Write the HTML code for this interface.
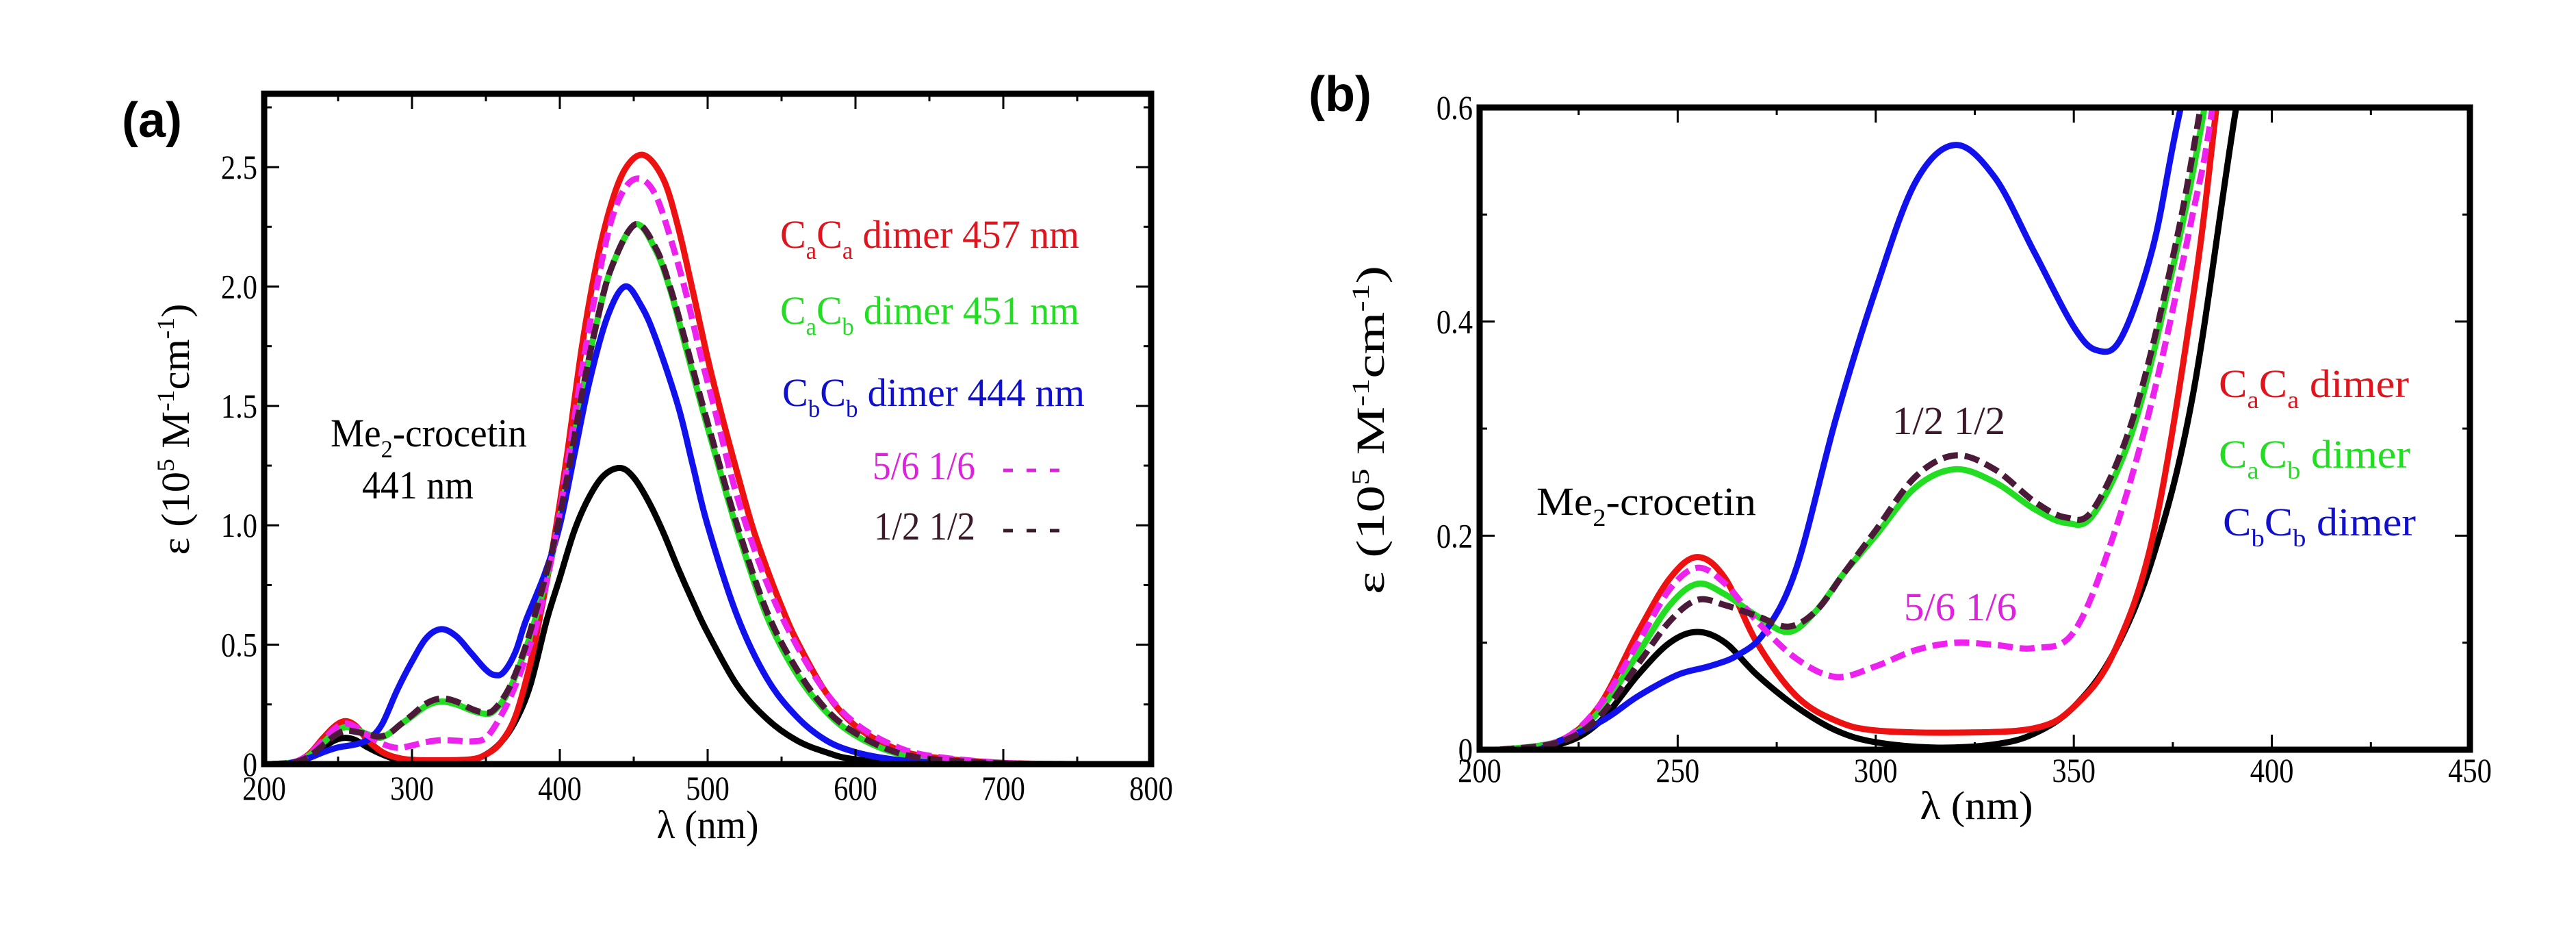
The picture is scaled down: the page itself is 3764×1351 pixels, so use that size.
<!DOCTYPE html>
<html><head><meta charset="utf-8"><style>
html,body{margin:0;padding:0;background:#fff;}
svg, svg text{font-family:"Liberation Serif","DejaVu Serif",serif;}
svg text.lbl{font-family:"Liberation Sans","DejaVu Sans",sans-serif;font-weight:bold;}
</style></head><body>
<svg id="fig" width="3764" height="1346" viewBox="0 0 3764 1346" xmlns="http://www.w3.org/2000/svg" font-family="Liberation Serif, serif">
<defs>
<clipPath id="clipA"><rect x="386" y="137" width="1296" height="979"/></clipPath>
<clipPath id="clipB"><rect x="2162" y="157" width="1447" height="938"/></clipPath>
</defs>
<text class="lbl" x="178" y="200" font-size="72" font-family="Liberation Sans, sans-serif" font-weight="bold">(a)</text>
<text class="lbl" x="1912" y="162" font-size="72" font-family="Liberation Sans, sans-serif" font-weight="bold">(b)</text>
<g id="panelA" font-family="Liberation Serif, serif"></g>
<g id="panelB" font-family="Liberation Serif, serif"></g>

<g font-size="58" font-family="Liberation Serif, serif">
<text x="1140" y="362" fill="#e0141c" textLength="437" lengthAdjust="spacingAndGlyphs">C<tspan font-size="36" dy="16">a</tspan><tspan dy="-16">C</tspan><tspan font-size="36" dy="16">a</tspan><tspan dy="-16"> dimer  457 nm</tspan></text>
<text x="1140" y="473" fill="#22dd22" textLength="437" lengthAdjust="spacingAndGlyphs">C<tspan font-size="36" dy="16">a</tspan><tspan dy="-16">C</tspan><tspan font-size="36" dy="16">b</tspan><tspan dy="-16"> dimer  451 nm</tspan></text>
<text x="1143" y="593" fill="#1010cc" textLength="442" lengthAdjust="spacingAndGlyphs">C<tspan font-size="36" dy="16">b</tspan><tspan dy="-16">C</tspan><tspan font-size="36" dy="16">b</tspan><tspan dy="-16"> dimer  444 nm</tspan></text>
<text x="1275" y="700" fill="#dd22dd" textLength="150" lengthAdjust="spacingAndGlyphs">5/6 1/6</text>
<line x1="1466" y1="687" x2="1548" y2="687" stroke="#dd22dd" stroke-width="5" stroke-dasharray="14 20"/>
<text x="1277" y="788" fill="#3a1a2a" textLength="148" lengthAdjust="spacingAndGlyphs">1/2 1/2</text>
<line x1="1466" y1="775" x2="1548" y2="775" stroke="#3a1a2a" stroke-width="5" stroke-dasharray="14 20"/>
<text x="483" y="652" fill="#000" textLength="287" lengthAdjust="spacingAndGlyphs">Me<tspan font-size="36" dy="16">2</tspan><tspan dy="-16">-crocetin</tspan></text>
<text x="529" y="728" fill="#000" textLength="163" lengthAdjust="spacingAndGlyphs">441 nm</text>
</g>
<text transform="translate(276,627) rotate(-90)" text-anchor="middle" font-size="58" font-family="Liberation Serif, serif" textLength="367" lengthAdjust="spacingAndGlyphs">ε (10<tspan font-size="36" dy="-22">5</tspan><tspan dy="22"> M</tspan><tspan font-size="36" dy="-22">-1</tspan><tspan dy="22">cm</tspan><tspan font-size="36" dy="-22">-1</tspan><tspan dy="22">)</tspan></text>
<text x="1034" y="1224" text-anchor="middle" font-size="58" font-family="Liberation Serif, serif" textLength="149" lengthAdjust="spacingAndGlyphs">λ (nm)</text>

<g font-size="58" font-family="Liberation Serif, serif">
<text x="3242" y="580" fill="#e0141c" textLength="278" lengthAdjust="spacingAndGlyphs">C<tspan font-size="36" dy="16">a</tspan><tspan dy="-16">C</tspan><tspan font-size="36" dy="16">a</tspan><tspan dy="-16"> dimer</tspan></text>
<text x="3242" y="683" fill="#22dd22" textLength="280" lengthAdjust="spacingAndGlyphs">C<tspan font-size="36" dy="16">a</tspan><tspan dy="-16">C</tspan><tspan font-size="36" dy="16">b</tspan><tspan dy="-16"> dimer</tspan></text>
<text x="3248" y="782" fill="#1010cc" textLength="282" lengthAdjust="spacingAndGlyphs">C<tspan font-size="36" dy="16">b</tspan><tspan dy="-16">C</tspan><tspan font-size="36" dy="16">b</tspan><tspan dy="-16"> dimer</tspan></text>
<text x="2765" y="634" fill="#3a1a2a" textLength="165" lengthAdjust="spacingAndGlyphs">1/2 1/2</text>
<text x="2782" y="906" fill="#dd22dd" textLength="165" lengthAdjust="spacingAndGlyphs">5/6 1/6</text>
<text x="2245" y="752" fill="#000" textLength="321" lengthAdjust="spacingAndGlyphs">Me<tspan font-size="36" dy="16">2</tspan><tspan dy="-16">-crocetin</tspan></text>
</g>
<text transform="translate(2022,628) rotate(-90)" text-anchor="middle" font-size="58" font-family="Liberation Serif, serif" textLength="480" lengthAdjust="spacingAndGlyphs">ε (10<tspan font-size="36" dy="-22">5</tspan><tspan dy="22"> M</tspan><tspan font-size="36" dy="-22">-1</tspan><tspan dy="22">cm</tspan><tspan font-size="36" dy="-22">-1</tspan><tspan dy="22">)</tspan></text>
<text x="2888" y="1196" text-anchor="middle" font-size="58" font-family="Liberation Serif, serif" textLength="165" lengthAdjust="spacingAndGlyphs">λ (nm)</text>
</svg>
<script>
const blackWl = [205,220,230,240,248,255,262,270,280,290,300,315,330,340,350,360,370,380,391,400,410,420,430,441,450,460,470,480,490,500,520,540,560,580,600,650,750];
const blackEps = [0,0.005,0.025,0.07,0.1,0.11,0.1,0.07,0.04,0.018,0.007,0.002,0.005,0.015,0.04,0.09,0.18,0.33,0.6,0.78,0.98,1.12,1.21,1.24,1.2,1.1,0.97,0.82,0.68,0.55,0.33,0.19,0.1,0.05,0.02,0.002,0];
const redWl = [205,220,230,240,248,255,262,270,280,290,300,320,340,350,360,370,380,386,395,405,415,425,435,445,457,470,480,490,500,510,520,530,540,550,560,580,600,625,650,700,750];
const redEps = [0,0.008,0.04,0.11,0.16,0.18,0.16,0.1,0.05,0.027,0.018,0.016,0.02,0.04,0.09,0.2,0.42,0.6,0.9,1.3,1.75,2.1,2.35,2.5,2.55,2.45,2.25,1.98,1.7,1.45,1.22,1.0,0.82,0.66,0.52,0.3,0.16,0.07,0.03,0.005,0];
const greenWl = [205,220,230,240,248,255,262,270,278,285,292,300,310,320,330,340,348,355,365,375,383,395,405,415,425,435,451,465,475,485,495,505,520,540,560,580,600,625,650,700,750];
const greenEps = [0,0.008,0.035,0.09,0.135,0.155,0.145,0.125,0.11,0.13,0.165,0.2,0.245,0.262,0.25,0.225,0.212,0.22,0.3,0.45,0.6,0.88,1.2,1.55,1.85,2.08,2.26,2.15,1.98,1.75,1.52,1.3,0.98,0.62,0.38,0.22,0.12,0.05,0.02,0.003,0];
const blueWl = [215,230,240,250,258,265,272,280,290,300,310,320,330,340,350,356,362,370,377,390,400,410,420,432,444,455,465,480,490,500,520,540,560,580,600,625,650,700];
const blueEps = [0,0.025,0.05,0.07,0.078,0.088,0.11,0.17,0.31,0.43,0.53,0.565,0.535,0.465,0.395,0.373,0.385,0.47,0.6,0.8,1.0,1.3,1.6,1.87,2.0,1.92,1.78,1.5,1.25,1.0,0.62,0.36,0.2,0.1,0.05,0.02,0.008,0];
const halfWl = [205,220,230,240,248,255,262,270,278,285,292,300,310,320,330,340,348,355,365,375,382,395,405,415,425,435,451,465,475,485,495,505,520,540,560,580,600,625,650,700,750];
const halfEps = [0,0.007,0.03,0.08,0.12,0.14,0.135,0.125,0.115,0.13,0.165,0.205,0.255,0.275,0.262,0.232,0.217,0.225,0.31,0.46,0.6,0.9,1.2,1.55,1.85,2.08,2.26,2.16,1.99,1.77,1.54,1.32,1.0,0.64,0.4,0.23,0.13,0.055,0.022,0.003,0];
const sixthWl = [205,220,230,240,248,255,262,270,280,290,300,310,320,330,340,350,360,370,380,385,395,405,415,425,435,445,455,465,475,485,495,505,520,540,560,580,600,625,650,700,750];
const sixthEps = [0,0.008,0.04,0.1,0.15,0.17,0.155,0.12,0.085,0.068,0.078,0.093,0.1,0.098,0.095,0.11,0.2,0.33,0.5,0.6,0.88,1.25,1.65,2.0,2.28,2.42,2.45,2.38,2.2,1.98,1.72,1.48,1.12,0.76,0.5,0.3,0.17,0.08,0.035,0.005,0];
const xTicksA = [200,300,400,500,600,700,800];
const yTicksA = [0,0.5,1.0,1.5,2.0,2.5];
const yLabelsA = ["0","0.5","1.0","1.5","2.0","2.5"];
const xTicksB = [200,250,300,350,400,450];
const yTicksB = [0,0.2,0.4,0.6];
const yLabelsB = ["0","0.2","0.4","0.6"];

const NS = "http://www.w3.org/2000/svg";
const series = [
  {wl: blackWl, eps: blackEps, color: "#000000", dash: null, name: "series-me2-crocetin"},
  {wl: redWl, eps: redEps, color: "#ee1111", dash: null, name: "series-caca-dimer"},
  {wl: greenWl, eps: greenEps, color: "#22dd22", dash: null, name: "series-cacb-dimer"},
  {wl: blueWl, eps: blueEps, color: "#1111ee", dash: null, name: "series-cbcb-dimer"},
  {wl: sixthWl, eps: sixthEps, color: "#ee22ee", dash: "22 10", name: "series-5-6-1-6"},
  {wl: halfWl, eps: halfEps, color: "#4a1a38", dash: "22 10", name: "series-1-2-1-2"}
];

function pathFrom(xs, ys) {
  const p = xs.map((x, i) => [x, ys[i]]);
  let d = "M" + p[0][0].toFixed(1) + "," + p[0][1].toFixed(1);
  for (let i = 0; i < p.length - 1; i++) {
    const p0 = p[Math.max(0, i - 1)], p1 = p[i], p2 = p[i + 1], p3 = p[Math.min(p.length - 1, i + 2)];
    const c1x = p1[0] + (p2[0] - p0[0]) / 6, c1y = p1[1] + (p2[1] - p0[1]) / 6;
    const c2x = p2[0] - (p3[0] - p1[0]) / 6, c2y = p2[1] - (p3[1] - p1[1]) / 6;
    d += " C" + c1x.toFixed(1) + "," + c1y.toFixed(1) + " " + c2x.toFixed(1) + "," + c2y.toFixed(1) + " " + p2[0].toFixed(1) + "," + p2[1].toFixed(1);
  }
  return d;
}

function drawPanel(g, cfg) {
  const sx = v => cfg.x0 + (v - cfg.xmin) / (cfg.xmax - cfg.xmin) * (cfg.x1 - cfg.x0);
  const sy = v => cfg.y0 - (v - cfg.ymin) / (cfg.ymax - cfg.ymin) * (cfg.y0 - cfg.y1);
  const cg = document.createElementNS(NS, "g");
  cg.setAttribute("clip-path", "url(#" + cfg.clip + ")");
  g.appendChild(cg);
  series.forEach(s => {
    const path = document.createElementNS(NS, "path");
    path.setAttribute("d", pathFrom(s.wl.map(sx), s.eps.map(sy)));
    path.setAttribute("fill", "none");
    path.setAttribute("stroke", s.color);
    path.setAttribute("stroke-width", "9");
    path.setAttribute("stroke-linejoin", "round");
    if (s.dash) path.setAttribute("stroke-dasharray", s.dash);
    
    
    cg.appendChild(path);
  });
  const tk = (x1, y1, x2, y2, nm) => {
    const l = document.createElementNS(NS, "line");
    l.setAttribute("x1", x1); l.setAttribute("y1", y1); l.setAttribute("x2", x2); l.setAttribute("y2", y2);
    l.setAttribute("stroke", "#000"); l.setAttribute("stroke-width", "3");
    
    
    g.appendChild(l);
  };
  for (let v = cfg.xmin; v <= cfg.xmax + 1e-9; v += cfg.xminor) {
    const X = sx(v); const len = (Math.abs((v - cfg.xmin) / cfg.xmajor - Math.round((v - cfg.xmin) / cfg.xmajor)) < 1e-6) ? 22 : 11;
    tk(X, cfg.y0, X, cfg.y0 - len, "x-tick");
    tk(X, cfg.y1, X, cfg.y1 + len, "x-tick-top");
  }
  for (let v = cfg.ymin; v <= cfg.ymax + 1e-9; v += cfg.yminor) {
    const Y = sy(v); const len = (Math.abs(v / cfg.ymajor - Math.round(v / cfg.ymajor)) < 1e-6) ? 22 : 11;
    tk(cfg.x0, Y, cfg.x0 + len, Y, "y-tick");
    tk(cfg.x1, Y, cfg.x1 - len, Y, "y-tick-right");
  }
  const fr = document.createElementNS(NS, "rect");
  fr.setAttribute("x", cfg.x0); fr.setAttribute("y", cfg.y1);
  fr.setAttribute("width", cfg.x1 - cfg.x0); fr.setAttribute("height", cfg.y0 - cfg.y1);
  fr.setAttribute("fill", "none"); fr.setAttribute("stroke", "#000"); fr.setAttribute("stroke-width", "9");
  
  
  g.appendChild(fr);
  cfg.xt.forEach(v => {
    const t = document.createElementNS(NS, "text");
    t.setAttribute("x", sx(v)); t.setAttribute("y", cfg.xlabY);
    t.setAttribute("text-anchor", "middle"); t.setAttribute("font-size", "50");
    t.setAttribute("font-family", "Liberation Serif, serif");
    t.setAttribute("transform", "translate(" + sx(v) + "," + cfg.xlabY + ") scale(0.85,1) translate(" + (-sx(v)) + "," + (-cfg.xlabY) + ")");
    t.textContent = String(v);
    
    
    g.appendChild(t);
  });
  cfg.yt.forEach((v, i) => {
    const t = document.createElementNS(NS, "text");
    const X = cfg.x0 - 10, Y = sy(v) + 17;
    t.setAttribute("x", X); t.setAttribute("y", Y);
    t.setAttribute("text-anchor", "end"); t.setAttribute("font-size", "50");
    t.setAttribute("font-family", "Liberation Serif, serif");
    t.setAttribute("transform", "translate(" + X + "," + Y + ") scale(0.85,1) translate(" + (-X) + "," + (-Y) + ")");
    t.textContent = cfg.yl[i];
    
    
    g.appendChild(t);
  });
}

drawPanel(document.getElementById("panelA"), {x0:386,x1:1682,y0:1116,y1:137,xmin:200,xmax:800,ymin:0,ymax:2.807,
  xmajor:100,xminor:50,ymajor:0.5,yminor:0.25,xt:xTicksA,yt:yTicksA,yl:yLabelsA,xlabY:1168,clip:"clipA"});
drawPanel(document.getElementById("panelB"), {x0:2162,x1:3609,y0:1095,y1:157,xmin:200,xmax:450,ymin:0,ymax:0.6,
  xmajor:50,xminor:25,ymajor:0.2,yminor:0.1,xt:xTicksB,yt:yTicksB,yl:yLabelsB,xlabY:1142,clip:"clipB"});
</script>
</body></html>
